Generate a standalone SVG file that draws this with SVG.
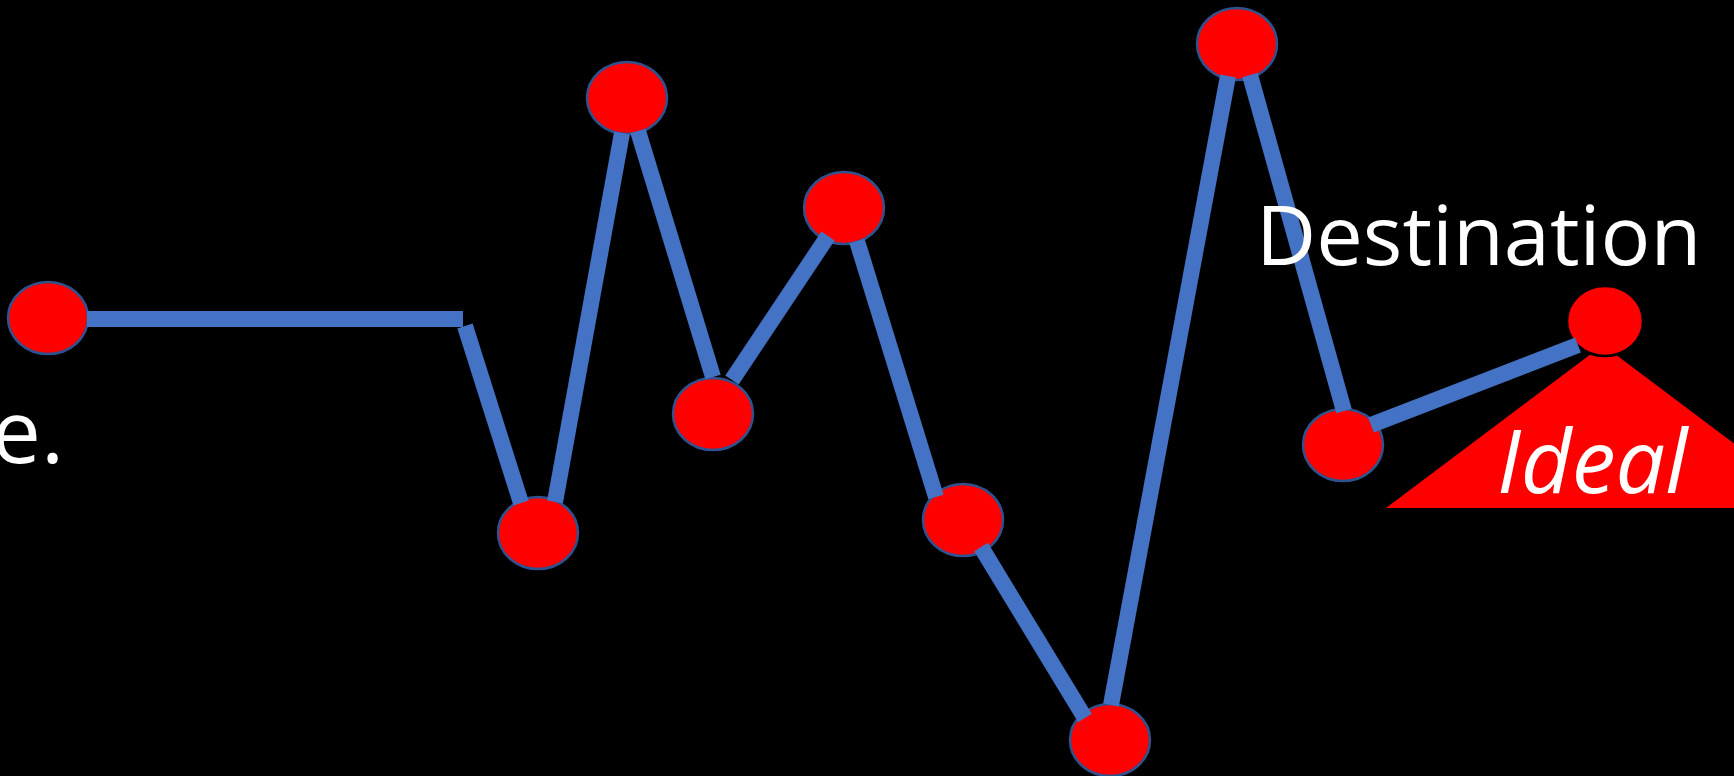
<svg xmlns="http://www.w3.org/2000/svg" width="1734" height="776" viewBox="0 0 1734 776">
<style>
.node{fill:#FF0000;stroke:#2F528F;stroke-width:2.5}
.edge{stroke:#4472C4;stroke-width:16;fill:none;stroke-linecap:butt}
.lbl{font-family:"Open Sans","Liberation Sans",sans-serif;fill:#FFFFFF;font-size:88px}
</style>
<rect x="0" y="0" width="1734" height="776" fill="#000000"/>
<polygon id="ideal-area" points="1603,345 1820,508 1386,508" fill="#FF0000"/>
<g id="nodes">
<g id="n1"><ellipse class="node" cx="48" cy="318" rx="40" ry="36"/></g>
<g id="n2"><ellipse class="node" cx="538" cy="533" rx="40" ry="36"/></g>
<g id="n3"><ellipse class="node" cx="627" cy="98" rx="40" ry="36"/></g>
<g id="n4"><ellipse class="node" cx="713" cy="414" rx="40" ry="36"/></g>
<g id="n5"><ellipse class="node" cx="844" cy="208" rx="40" ry="36"/></g>
<g id="n6"><ellipse class="node" cx="963" cy="520" rx="40" ry="36"/></g>
<g id="n7"><ellipse class="node" cx="1110" cy="740" rx="40" ry="36"/></g>
<g id="n8"><ellipse class="node" cx="1237" cy="44" rx="40" ry="36"/></g>
<g id="n9"><ellipse class="node" cx="1343" cy="445" rx="40" ry="36"/></g>
<g id="n10"><ellipse cx="1605" cy="321" rx="38" ry="35" fill="#FF0000" stroke="#000000" stroke-width="2.5"/></g>
</g>
<g id="connectors">
<line class="edge" x1="87" y1="319" x2="463" y2="319"/>
<line class="edge" x1="465" y1="326" x2="521" y2="503"/>
<line class="edge" x1="555" y1="502" x2="622" y2="133"/>
<line class="edge" x1="638" y1="131" x2="713" y2="377"/>
<line class="edge" x1="732" y1="380" x2="828" y2="236"/>
<line class="edge" x1="857" y1="241" x2="936" y2="497"/>
<line class="edge" x1="981" y1="547" x2="1085" y2="718"/>
<line class="edge" x1="1111" y1="705" x2="1228" y2="76"/>
<line class="edge" x1="1250" y1="75" x2="1344" y2="411"/>
<line class="edge" x1="1371" y1="425" x2="1578" y2="345"/>
</g>
<text class="lbl" x="64" y="463" text-anchor="end">e.</text>
<text class="lbl" x="1256" y="265" style="font-size:83px">Destination</text>
<text class="lbl" x="1497" y="493" font-style="italic">Ideal</text>
</svg>
